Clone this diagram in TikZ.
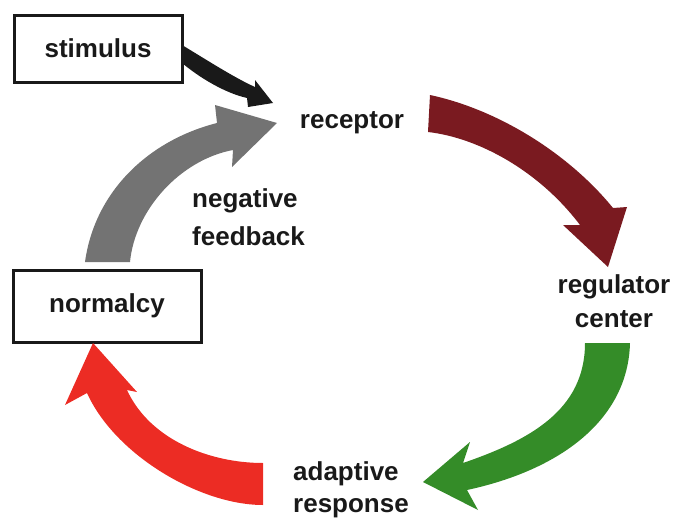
\documentclass[tikz,border=0pt]{standalone}
\usepackage{fontspec}
\setmainfont{Liberation Sans}
\begin{document}
\begin{tikzpicture}[x=1pt,y=-1pt,
  lbl/.style={font=\fontsize{26}{30}\bfseries\selectfont, text=black!90, inner sep=0pt},
  box/.style={draw=black!90, line width=3pt, fill=white, font=\fontsize{26}{30}\bfseries\selectfont, text=black!90}]
\useasboundingbox (0,0) rectangle (678,522);
\definecolor{grayarr}{RGB}{115,115,115}
\definecolor{darkred}{RGB}{122,26,32}
\definecolor{greenarr}{RGB}{52,140,40}
\definecolor{redarr}{RGB}{236,44,36}
% boxes
\node[box, minimum width=168pt, minimum height=67pt] (stim) at (98,48.5) {stimulus};
\node[box, minimum width=188pt, minimum height=72pt] (norm) at (107,306) {normalcy};
% labels
\node[lbl, anchor=base] (rec) at (352,128) {receptor};
\node[lbl, anchor=base] (reg1) at (614,293) {regulator};
\node[lbl, anchor=base] (reg2) at (614,327) {center};
\node[lbl, anchor=base west] (neg1) at (192,207) {negative};
\node[lbl, anchor=base west] (neg2) at (192,245) {feedback};
\node[lbl, anchor=base west] (ad1) at (293,480) {adaptive};
\node[lbl, anchor=base west] (ad2) at (293,512) {response};
% black arrow stimulus -> receptor
\fill[black!90] (182,45) .. controls (210,62) and (235,78) .. (255,87)
  -- (255,80) -- (273,103) -- (248,107) -- (247,98)
  .. controls (225,93) and (200,78) .. (182,63) -- cycle;
% gray arrow normalcy -> receptor
\fill[grayarr] (85,262) .. controls (95,190) and (150,140) .. (217,123)
  -- (215,105) -- (277,123) -- (232,167) -- (233,150)
  .. controls (180,160) and (135,210) .. (130,262) -- cycle;
% dark red arrow receptor -> regulator center
\fill[darkred] (430,95) .. controls (500,110) and (570,155) .. (613,208)
  -- (627,207) -- (608,267) -- (563,225) -- (580,225)
  .. controls (540,172) and (480,138) .. (428,132) -- cycle;
% green arrow regulator center -> adaptive response
\fill[greenarr] (630,343) .. controls (628,420) and (560,470) .. (467,490)
  -- (478,510) -- (423,482) -- (470,442) -- (463,463)
  .. controls (530,440) and (585,410) .. (585,343) -- cycle;
% red arrow adaptive response -> normalcy
\fill[redarr] (263,505) .. controls (200,505) and (115,455) .. (87,393)
  -- (65,405) -- (93,343) -- (137,392) -- (127,390)
  .. controls (150,440) and (210,463) .. (263,463) -- cycle;
\end{tikzpicture}
\end{document}
